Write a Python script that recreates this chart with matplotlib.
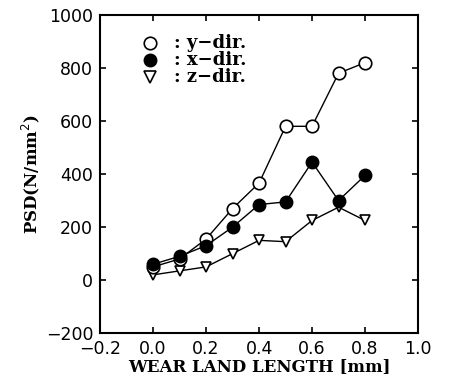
import matplotlib
matplotlib.use("Agg")
import matplotlib.pyplot as plt

# wear land length [mm]
wear = [0.0, 0.1, 0.2, 0.3, 0.4, 0.5, 0.6, 0.7, 0.8]

# PSD for each direction
psd_y = [50, 80, 155, 270, 366, 580, 580, 780, 820]
psd_x = [60, 90, 130, 200, 285, 295, 445, 300, 395]
psd_z = [20, 35, 50, 100, 150, 145, 225, 275, 225]

xticks = [-0.2, 0.0, 0.2, 0.4, 0.6, 0.8, 1.0]
yticks = [-200, 0, 200, 400, 600, 800, 1000]

fig = plt.figure(figsize=(4.49, 3.92), dpi=100)
ax = fig.add_axes([0.223, 0.150, 0.708, 0.812])

ax.plot(wear, psd_z, color="black", lw=1.0, marker="v", ms=7.5,
        mfc="white", mec="black", mew=1.2, zorder=3)
ax.plot(wear, psd_y, color="black", lw=1.0, marker="o", ms=9,
        mfc="white", mec="black", mew=1.2, zorder=4)
ax.plot(wear, psd_x, color="black", lw=1.0, marker="o", ms=9,
        mfc="black", mec="black", zorder=5)

ax.set_xlim(-0.2, 1.0)
ax.set_ylim(-200, 1000)
ax.set_xticks(xticks)
ax.set_yticks(yticks)
ax.set_xticklabels(["\u22120.2", "0.0", "0.2", "0.4", "0.6", "0.8", "1.0"])
ax.set_yticklabels(["\u2212200", "0", "200", "400", "600", "800", "1000"])

ax.tick_params(direction="in", top=True, right=True, length=4, width=1.2,
               labelsize=12.5)
ax.tick_params(axis="x", pad=5)
ax.tick_params(axis="y", pad=5)
for lab in ax.get_xticklabels() + ax.get_yticklabels():
    lab.set_fontfamily("DejaVu Sans")
for sp in ax.spines.values():
    sp.set_linewidth(1.5)

serif = dict(family="DejaVu Serif", weight="bold", size=12)
ax.set_xlabel("WEAR LAND LENGTH [mm]", labelpad=0, **serif)
ax.set_ylabel("PSD(N/mm$^{2}$)", labelpad=3, **serif)

# legend drawn as markers with text
leg_x = 0.157
leg_y = [0.912, 0.858, 0.805]
ax.plot([leg_x], [leg_y[0]], transform=ax.transAxes, marker="o", ms=9,
        mfc="white", mec="black", mew=1.2, clip_on=False)
ax.plot([leg_x], [leg_y[1]], transform=ax.transAxes, marker="o", ms=9,
        mfc="black", mec="black", clip_on=False)
ax.plot([leg_x], [leg_y[2]], transform=ax.transAxes, marker="v", ms=8,
        mfc="white", mec="black", mew=1.2, clip_on=False)
for yy, txt in zip(leg_y, [": y\u2212dir.", ": x\u2212dir.", ": z\u2212dir."]):
    ax.text(leg_x + 0.075, yy, txt, transform=ax.transAxes, va="center",
            ha="left", family="DejaVu Serif", weight="bold", size=13)

fig.savefig("out.png", dpi=100)
